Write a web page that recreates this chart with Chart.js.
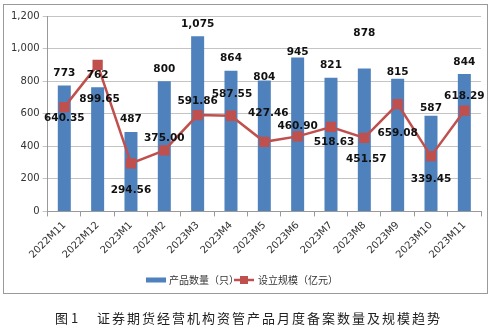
<!DOCTYPE html>
<html lang="zh">
<head>
<meta charset="utf-8">
<title>资管产品月度备案</title>
<script src="https://cdn.jsdelivr.net/npm/chart.js"></script>
<style>
  body { margin: 0; background: #fff; }
  #wrap { width: 500px; height: 330px; position: relative; }
</style>
</head>
<body>
<div id="wrap"><canvas id="myChart"></canvas></div>

<script>
// 月份
const months = ['2022M11', '2022M12', '2023M1', '2023M2', '2023M3', '2023M4', '2023M5',
                '2023M6', '2023M7', '2023M8', '2023M9', '2023M10', '2023M11'];
// 产品数量（只）
const productCount = [773, 762, 487, 800, 1075, 864, 804, 945, 821, 878, 815, 587, 844];
// 设立规模（亿元）
const scale = [640.35, 899.65, 294.56, 375.00, 591.86, 587.55, 427.46, 460.90, 518.63, 451.57, 659.08, 339.45, 618.29];
const yTicks = [0, 200, 400, 600, 800, 1000, 1200];

const barName = '产品数量（只）';
const lineName = '设立规模（亿元）';
const caption = '证券期货经营机构资管产品月度备案数量及规模趋势';

// label placement (px) relative to bar top / line point
const barLabelDy = [-12, -12, -13, -12, -12, -12, -3, -5, -12, -35, -6, -8, -12];
const lineLabelD = [[0, 11], [2, 34], [0, 27], [0, -12], [0, -14], [1, -21], [4, -29],
                    [0, -10], [3, 15], [2, 21], [0, 29], [0, 23], [0, -14]];

const blue = '#4f81bd';
const red = '#c0504d';
const fmt = (v, d) => v.toLocaleString('en-US', { minimumFractionDigits: d, maximumFractionDigits: d });

const extras = {
  id: 'extras',
  afterDatasetsDraw(chart) {
    const ctx = chart.ctx;
    ctx.save();
    ctx.font = 'bold 10.5px "DejaVu Sans"';
    ctx.fillStyle = '#111';
    ctx.textAlign = 'center';
    ctx.textBaseline = 'middle';
    // dataset 0 = line, dataset 1 = bars
    chart.getDatasetMeta(1).data.forEach((el, i) => {
      ctx.fillText(fmt(productCount[i], 0), el.x, el.y + barLabelDy[i]);
    });
    chart.getDatasetMeta(0).data.forEach((el, i) => {
      ctx.fillText(fmt(scale[i], 2), el.x + lineLabelD[i][0], el.y + lineLabelD[i][1]);
    });
    ctx.restore();
  },
  afterDraw(chart) {
    const ctx = chart.ctx;
    ctx.save();
    // outer frame
    ctx.strokeStyle = '#9a9a9a';
    ctx.lineWidth = 1;
    ctx.strokeRect(3.5, 4.5, 484, 289);

    // legend
    ctx.font = '10px "Noto Sans CJK SC"';
    ctx.textBaseline = 'middle';
    const ly = 280;
    ctx.fillStyle = blue;
    ctx.fillRect(146, ly - 2.5, 20, 5);
    ctx.fillStyle = '#333';
    ctx.fillText(barName, 169, ly);
    ctx.strokeStyle = red;
    ctx.lineWidth = 2.5;
    ctx.beginPath();
    ctx.moveTo(234, ly);
    ctx.lineTo(254, ly);
    ctx.stroke();
    ctx.fillStyle = red;
    ctx.fillRect(240, ly - 4, 8, 8);
    ctx.fillStyle = '#333';
    ctx.fillText(lineName, 258, ly);

    // caption
    ctx.fillStyle = '#222';
    ctx.font = '13px "Noto Sans CJK SC"';
    ctx.fillText('图 1', 55, 318);
    ctx.letterSpacing = '2px';
    ctx.fillText(caption, 97, 318);
    ctx.restore();
  }
};

new Chart(document.getElementById('myChart'), {
  data: {
    labels: months,
    datasets: [{
      type: 'line',
      label: lineName,
      data: scale,
      borderColor: red,
      backgroundColor: red,
      borderWidth: 2.5,
      pointStyle: 'rect',
      pointRadius: 5.5,
      pointHoverRadius: 5.5,
      tension: 0,
      order: 0
    }, {
      type: 'bar',
      label: barName,
      data: productCount,
      backgroundColor: blue,
      categoryPercentage: 1,
      barPercentage: 0.39,
      order: 1
    }]
  },
  plugins: [extras],
  options: {
    responsive: true,
    maintainAspectRatio: false,
    animation: false,
    layout: { padding: { left: 8, top: 16, right: 19, bottom: 66 } },
    plugins: {
      legend: { display: false },
      tooltip: { enabled: false }
    },
    scales: {
      x: {
        grid: { offset: true, drawOnChartArea: false, tickLength: 5, color: '#999' },
        border: { color: '#999' },
        ticks: {
          maxRotation: 45, minRotation: 45,
          color: '#333',
          font: { family: 'DejaVu Sans', size: 10 }
        }
      },
      y: {
        min: 0, max: 1200,
        afterBuildTicks(axis) { axis.ticks = yTicks.map(v => ({ value: v })); },
        grid: { color: '#c4c4c4', tickLength: 5 },
        border: { color: '#999' },
        ticks: {
          color: '#333',
          padding: 3,
          font: { family: 'DejaVu Sans', size: 10 },
          callback: v => v.toLocaleString('en-US')
        }
      }
    }
  }
});
</script>
</body>
</html>
